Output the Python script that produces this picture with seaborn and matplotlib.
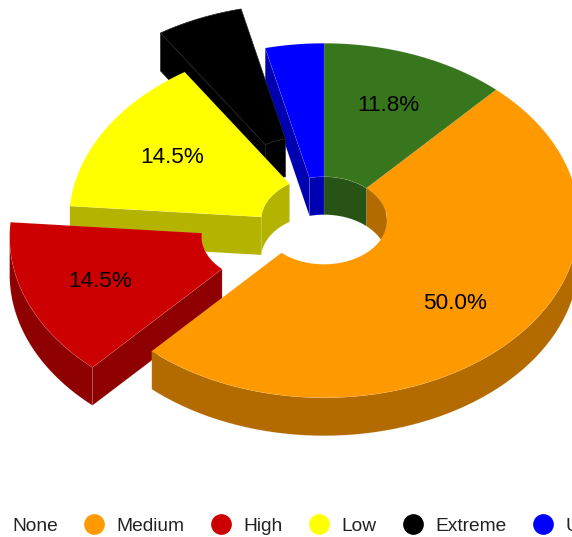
import numpy as np
import seaborn as sns
import matplotlib.pyplot as plt
from matplotlib.lines import Line2D

categories = ['None', 'Medium', 'High', 'Low', 'Extreme', 'Unknown']
shares = [11.8, 50.0, 14.5, 14.5, 5.5, 3.7]
slice_colors = ['#38761d', '#ff9900', '#cc0000', '#ffff00', '#000000', '#0000ff']
wall_colors = ['#275314', '#b36b00', '#8f0000', '#b3b300', '#000000', '#0000b3']
edge_colors = [(1, 1, 1, 0.12)] * 4 + ['#242424'] + [(1, 1, 1, 0.12)]
pulled_out = [0, 0, 0.25, 0, 0.24, 0]

# pie layout in pixels
cx, cy = 324, 220.5
rx, tilt = 255, 0.695
hole = 0.247
depth = 38
label_r = 177

sns.set_theme(style="white")
plt.rcParams['font.family'] = ['Liberation Sans', 'DejaVu Sans']

fig = plt.figure(figsize=(5.72, 5.37), dpi=100)
ax = fig.add_axes([0, 0, 1, 1])
ax.set_xlim(0, 572)
ax.set_ylim(537, 0)
ax.axis('off')


def ring(deg, r, dx=0, dy=0, drop=0):
    # angles run clockwise from the top of the pie
    a = np.radians(deg)
    return cx + dx + r * np.sin(a), cy + dy - r * tilt * np.cos(a) + drop


def wall(a0, a1, r, color, ec, dx, dy):
    if a1 <= a0:
        return
    deg = np.linspace(a0, a1, 60)
    x, y = ring(deg, r, dx, dy)
    x2, y2 = ring(deg[::-1], r, dx, dy, depth)
    ax.fill(np.r_[x, x2], np.r_[y, y2], color=color, ec=ec, lw=0.5)


angles = np.cumsum([0] + shares) * 3.6
inner = rx * hole
# back slices first, orange last so it sits over the red side wall
for i in [0, 5, 4, 3, 2, 1]:
    a0, a1 = angles[i], angles[i + 1]
    mid = np.radians((a0 + a1) / 2)
    dx = pulled_out[i] * rx * np.sin(mid)
    dy = -pulled_out[i] * rx * tilt * np.cos(mid)
    ec = edge_colors[i]

    # inner wall, only the far half of the hole shows
    wall(max(a0, 270), min(a1, 360), inner, wall_colors[i], ec, dx, dy)
    wall(a0, min(a1, 90), inner, wall_colors[i], ec, dx, dy)
    # outer wall, only the near half shows
    wall(max(a0, 90), min(a1, 270), rx, wall_colors[i], ec, dx, dy)

    # flat side walls
    if np.sin(np.radians(a0)) < -1e-6:
        x, y = ring(np.array([a0, a0]), np.array([inner, rx]), dx, dy)
        ax.fill(np.r_[x, x[::-1]], np.r_[y, y[::-1] + depth],
                color=wall_colors[i], ec=ec, lw=0.5)
    if np.sin(np.radians(a1)) > 1e-6:
        x, y = ring(np.array([a1, a1]), np.array([inner, rx]), dx, dy)
        ax.fill(np.r_[x, x[::-1]], np.r_[y, y[::-1] + depth],
                color=wall_colors[i], ec=ec, lw=0.5)

    deg = np.linspace(a0, a1, 120)
    xo, yo = ring(deg, rx, dx, dy)
    xi, yi = ring(deg[::-1], inner, dx, dy)
    ax.fill(np.r_[xo, xi], np.r_[yo, yi], color=slice_colors[i], ec=ec, lw=0.5)

for i, share in enumerate(shares):
    if share < 10:
        continue
    a0, a1 = angles[i], angles[i + 1]
    mid = np.radians((a0 + a1) / 2)
    dx = pulled_out[i] * rx * np.sin(mid)
    dy = -pulled_out[i] * rx * tilt * np.cos(mid)
    lx, ly = ring((a0 + a1) / 2, label_r, dx, dy)
    ax.text(lx, ly, f'{share:.1f}%', ha='center', va='center', fontsize=16.2, color='black')

handles = [Line2D([], [], ls='', marker='o', ms=13.9, mfc=c, mec=c) for c in slice_colors]
fig.legend(handles, categories, ncol=6, frameon=False, loc='center left',
           bbox_to_anchor=(-0.036, 0.0205), fontsize=13.8, labelcolor='#222222',
           handlelength=1.0, handletextpad=0.7, columnspacing=1.375, borderpad=0, borderaxespad=0)

fig.savefig('out.png', dpi=100)
